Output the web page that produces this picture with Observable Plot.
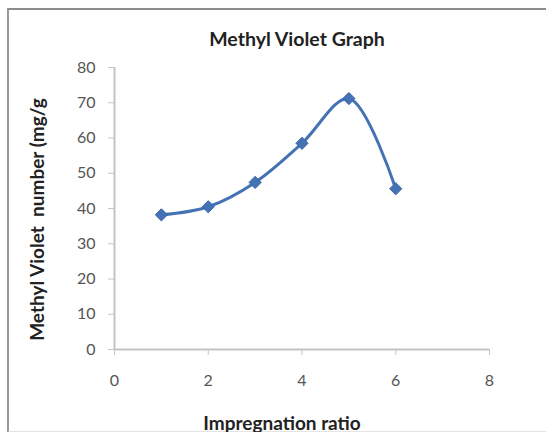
<!DOCTYPE html>
<html>
<head>
<meta charset="utf-8">
<script src="https://cdn.jsdelivr.net/npm/d3@7"></script>
<script src="https://cdn.jsdelivr.net/npm/@observablehq/plot@0.6"></script>
<style>
  html, body { margin: 0; padding: 0; background: #fff; }
  #wrap { position: relative; width: 546px; height: 432px; overflow: hidden; font-family: Lato, "Open Sans", sans-serif; }
  #frame { position: absolute; left: 7px; top: 8px; width: 600px; height: 421px; border-left: 2px solid #9a9a9a; border-top: 2px solid #8c8c8c; border-bottom: 3px solid #e4e4e4; }
  #title { position: absolute; left: 0; top: 27px; width: 594px; text-align: center; font-weight: bold; font-size: 19.5px; color: #222; }
  #chart { position: absolute; left: 0; top: 0; }
</style>
</head>
<body>
<div id="wrap">
  <div id="frame"></div>
  <div id="chart"></div>
  <div id="title">Methyl Violet Graph</div>
</div>
<script>
const ratio = [1, 2, 3, 4, 5, 6];
const mvNumber = [38.2, 40.5, 47.4, 58.5, 71.2, 45.6];
const xTicks = [0, 2, 4, 6, 8];
const yTicks = [0, 10, 20, 30, 40, 50, 60, 70, 80];

const data = ratio.map((r, i) => ({ratio: r, value: mvNumber[i]}));

const chart = Plot.plot({
  width: 546,
  height: 432,
  marginLeft: 114,
  marginRight: 57,
  marginTop: 67,
  marginBottom: 83,
  style: { fontFamily: "Lato, 'Open Sans', sans-serif", background: "transparent", overflow: "visible" },
  x: { domain: [0, 8], ticks: xTicks },
  y: { domain: [0, 80], ticks: yTicks },
  marks: [
    Plot.ruleY([0], { stroke: "#c4c4c4", strokeWidth: 2 }),
    Plot.ruleX([0], { stroke: "#c4c4c4", strokeWidth: 2 }),
    Plot.axisY({ ticks: yTicks, tickSize: 6, tickPadding: 13, stroke: "#c4c4c4", fill: "#555", fontSize: 16,
      label: "Methyl Violet  number (mg/g", labelAnchor: "center", labelArrow: "none", labelOffset: 84 }),
    Plot.axisX({ ticks: xTicks, tickSize: 6, tickPadding: 19, stroke: "#c4c4c4", fill: "#555", fontSize: 16,
      label: "Impregnation ratio", labelAnchor: "center", labelArrow: "none", labelOffset: 80 }),
    Plot.line(data, { x: "ratio", y: "value", curve: "catmull-rom", stroke: "#4472b4", strokeWidth: 3 }),
    Plot.dot(data, { x: "ratio", y: "value", symbol: "diamond2", r: 5.5, fill: "#4472b4", stroke: "#3a66a8", strokeWidth: 1 })
  ]
});
// style axis labels bold and larger, nudge to match the reference
chart.querySelectorAll("g[aria-label='y-axis label'] text").forEach(t => {
  t.setAttribute("dx", "-11");
});
chart.querySelectorAll("g[aria-label='x-axis label'] text").forEach(t => {
  t.setAttribute("dx", "-20");
});
chart.querySelectorAll("g[aria-label$='axis label']").forEach(g => {
  g.querySelectorAll("text").forEach(t => {
    t.style.fontWeight = "bold";
    t.style.fontSize = "19px";
    t.style.fill = "#222";
  });
});
document.getElementById("chart").appendChild(chart);
</script>
</body>
</html>
